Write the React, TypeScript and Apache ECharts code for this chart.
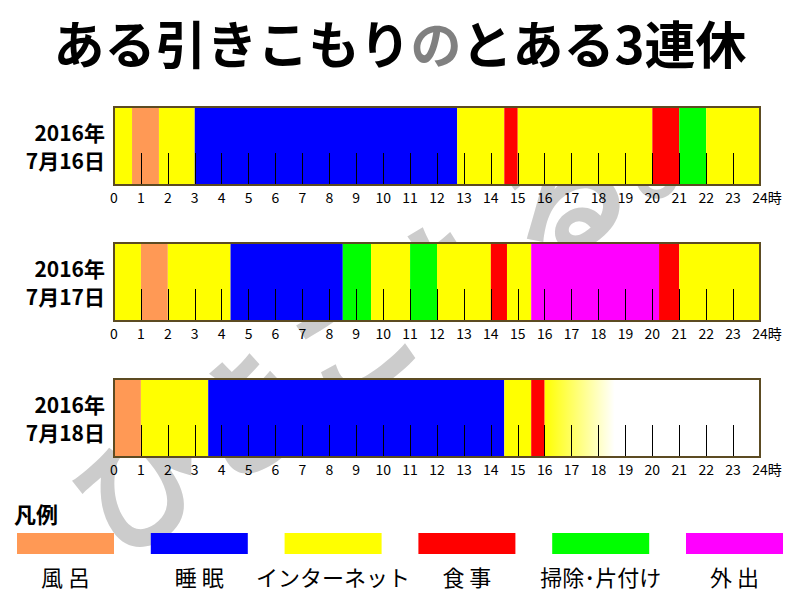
import React, { useEffect, useRef } from 'react';
import * as echarts from 'echarts';

const titlePre = 'ある引きこもり';
const titleMid = 'の';
const titlePost = 'とある3連休';
const dayLabels = ['2016年\n7月16日', '2016年\n7月17日', '2016年\n7月18日'];
const legendTitle = '凡例';
const activities = ['風 呂', '睡 眠', 'インターネット', '食 事', '掃除･片付け', '外 出'];
const activityColors = ['#ff9955', '#0000ff', '#ffff00', '#ff0000', '#00ff00', '#ff00ff'];
const hourUnit = '時';
const watermarkText = 'ひきこもる。';

// [start hour, end hour, activity index, fade(1) ]
const day1Segments = [
  [0, 0.67, 2], [0.67, 1.67, 0], [1.67, 3, 2], [3, 12.75, 1], [12.75, 14.5, 2],
  [14.5, 15, 3], [15, 20, 2], [20, 21, 3], [21, 22, 4], [22, 24, 2],
];
const day2Segments = [
  [0, 1, 2], [1, 2, 0], [2, 4.33, 2], [4.33, 8.5, 1], [8.5, 9.55, 4], [9.55, 11, 2],
  [11, 12, 4], [12, 14, 2], [14, 14.6, 3], [14.6, 15.5, 2], [15.5, 20.25, 5],
  [20.25, 21, 3], [21, 24, 2],
];
const day3Segments = [
  [0, 1, 0], [1, 3.5, 2], [3.5, 14.5, 1], [14.5, 15.5, 2], [15.5, 16, 3], [16, 18.6, 2, 1],
];
const daySegments = [day1Segments, day2Segments, day3Segments];

const FONT = '"Noto Sans CJK JP", "Noto Sans", sans-serif';
const FRAME = '#5c4b22';
const gridTops = [107, 243, 379];

export default function App() {
  const ref = useRef<HTMLDivElement>(null);
  useEffect(() => {
    if (!ref.current) return;
    const chart = echarts.init(ref.current, null, { renderer: 'svg' });

    const grids = gridTops.map((t) => ({
      left: 114, right: 40, top: t, height: 78,
      show: true, backgroundColor: '#fff', borderWidth: 0, z: 1,
    }));
    const xAxes = gridTops.map((_, i) => ({
      type: 'value', gridIndex: i, min: 0, max: 24, interval: 1, z: 3,
      axisLine: { show: false },
      splitLine: { show: false },
      axisTick: { show: true, inside: true, length: 32, lineStyle: { color: '#000', width: 1 } },
      axisLabel: {
        margin: 5, color: '#000', fontSize: 14, fontFamily: FONT,
        showMinLabel: true, showMaxLabel: true,
        formatter: (v: number) => (v === 24 ? '{p|}24{u|' + hourUnit + '}' : String(v)),
        rich: { p: { width: 14 }, u: { fontSize: 14, fontFamily: FONT, color: '#000' } },
      },
    }));
    const yAxes = gridTops.map((_, i) => ({
      type: 'category', gridIndex: i, data: [dayLabels[i]],
      axisLine: { show: false }, axisTick: { show: false },
      axisLabel: {
        margin: 9, color: '#000', fontSize: 21, fontWeight: 'bold', fontFamily: FONT,
        lineHeight: 28, padding: [8, 0, 0, 0],
      },
    }));

    const segSeries = daySegments.map((segs, i) => ({
      type: 'custom', xAxisIndex: i, yAxisIndex: i, z: 2,
      encode: { x: [0, 1] },
      data: segs.map((s) => [s[0], s[1], s[2], s[3] || 0]),
      renderItem: (params: any, api: any) => {
        const s = api.value(0), e = api.value(1), a = api.value(2), f = api.value(3);
        const p0 = api.coord([s, 0]);
        const p1 = api.coord([e, 0]);
        const h = api.size([0, 1])[1];
        const fill = f
          ? new echarts.graphic.LinearGradient(0, 0, 1, 0, [
              { offset: 0, color: activityColors[a] },
              { offset: 1, color: '#ffffff' },
            ])
          : activityColors[a];
        return {
          type: 'rect',
          shape: { x: p0[0], y: p0[1] - h / 2, width: p1[0] - p0[0], height: h },
          style: { fill },
        };
      },
    }));
    const frameSeries = daySegments.map((_, i) => ({
      type: 'custom', xAxisIndex: i, yAxisIndex: i, z: 4,
      encode: { x: [0, 1] },
      data: [[0, 24]],
      renderItem: (params: any, api: any) => {
        const p0 = api.coord([api.value(0), 0]);
        const p1 = api.coord([api.value(1), 0]);
        const h = api.size([0, 1])[1];
        return {
          type: 'rect',
          shape: { x: p0[0], y: p0[1] - h / 2, width: p1[0] - p0[0], height: h },
          style: { fill: 'none', stroke: FRAME, lineWidth: 2 },
        };
      },
    }));

    const legendGraphics: any[] = [];
    activities.forEach((name, i) => {
      const x = 17 + i * 133.8;
      legendGraphics.push({
        type: 'rect', shape: { x, y: 533, width: 97, height: 21 },
        style: { fill: activityColors[i] }, z: 5,
      });
      legendGraphics.push({
        type: 'text', x: x + 48.5, y: 576, z: 5,
        style: {
          text: name, fill: '#000', font: '22px ' + FONT,
          textAlign: 'center', textVerticalAlign: 'middle',
        },
      });
    });

    chart.setOption({
      animation: false,
      backgroundColor: '#fff',
      title: {
        left: 'center', top: 11,
        text: '{a|' + titlePre + '}{b|' + titleMid + '}{a|' + titlePost + '}',
        textStyle: {
          rich: {
            a: { fontSize: 51, fontWeight: 'bold', color: '#000', fontFamily: FONT },
            b: { fontSize: 51, fontWeight: 'bold', color: '#808080', fontFamily: FONT },
          },
        },
      },
      grid: grids,
      xAxis: xAxes,
      yAxis: yAxes,
      series: [...segSeries, ...frameSeries],
      graphic: [
        {
          type: 'text', x: 400, y: 300, rotation: 0.6, z: -10,
          style: {
            text: watermarkText, fill: '#cccccc', font: 'bold 128px ' + FONT,
            textAlign: 'center', textVerticalAlign: 'middle',
          },
        },
        {
          type: 'text', x: 14, y: 513, z: 5,
          style: {
            text: legendTitle, fill: '#000', font: 'bold 22px ' + FONT,
            textAlign: 'left', textVerticalAlign: 'middle',
          },
        },
        ...legendGraphics,
      ],
    });
    return () => chart.dispose();
  }, []);
  return <div ref={ref} style={{ width: 800, height: 600, position: 'absolute', left: 0, top: 0 }} />;
}
